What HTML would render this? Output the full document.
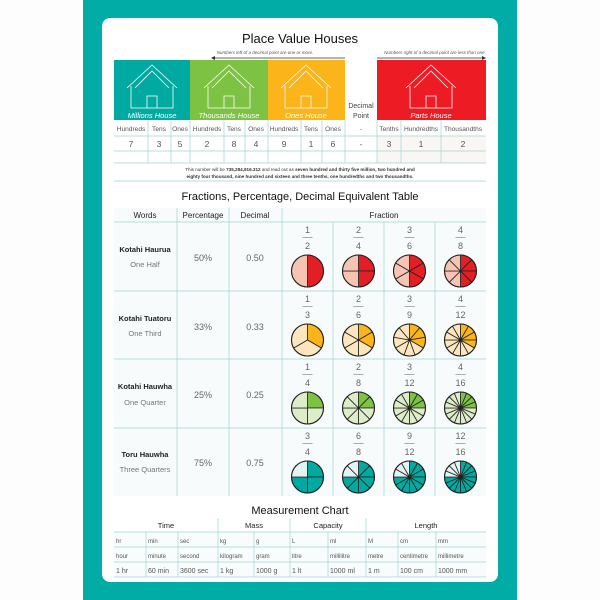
<!DOCTYPE html>
<html><head><meta charset="utf-8"><style>
body{margin:0;background:#fff;}
svg{display:block;font-family:"Liberation Sans",sans-serif;}
</style></head><body>
<svg width="600" height="600" viewBox="0 0 600 600" xmlns="http://www.w3.org/2000/svg">
<rect x="0" y="0" width="600" height="600" fill="#fdfdfd"/>
<rect x="83" y="0" width="434" height="600" fill="#00aca5"/>
<rect x="102" y="18" width="396" height="564" rx="8" fill="#fff"/>

<text x="300" y="43" font-size="13" text-anchor="middle" fill="#111">Place Value Houses</text>
<text x="265" y="54" font-size="4.5" text-anchor="middle" fill="#555" font-style="italic">Numbers left of a decimal point are one or more.</text>
<text x="435" y="54" font-size="4.5" text-anchor="middle" fill="#555" font-style="italic">Numbers right of a decimal point are less than one.</text>
<line x1="213" y1="58" x2="345" y2="58" stroke="#333" stroke-width="0.8"/>
<path d="M211 58 l4 -2 v4z" fill="#333"/>
<line x1="377" y1="58" x2="484" y2="58" stroke="#333" stroke-width="0.8"/>
<path d="M486 58 l-4 -2 v4z" fill="#333"/>
<rect x="114" y="60" width="76" height="60" fill="#00aaa0"/>
<rect x="190" y="60" width="78" height="60" fill="#7dc242"/>
<rect x="268" y="60" width="77" height="60" fill="#fbb419"/>
<rect x="377" y="60" width="109" height="60" fill="#ed1c24"/>
<g fill="none" stroke="#fff" stroke-width="0.8">
<path d="M127 88 L152 65 L177 88 M131 86 L131 108 L173 108 L173 86 M135 88 L152 71 L169 88 M147 108 V96 H157 V108"/>
<path d="M204 88 L229 65 L254 88 M208 86 L208 108 L250 108 L250 86 M212 88 L229 71 L246 88 M224 108 V96 H234 V108"/>
<path d="M281 88 L306 65 L331 88 M285 86 L285 108 L327 108 L327 86 M289 88 L306 71 L323 88 M301 108 V96 H311 V108"/>
<path d="M406 88 L431 65 L456 88 M410 86 L410 108 L452 108 L452 86 M414 88 L431 71 L448 88 M426 108 V96 H436 V108"/>
</g>
<g font-size="7.5" fill="#fff" text-anchor="middle" font-style="italic">
<text x="152" y="118">Millions House</text><text x="229" y="118">Thousands House</text>
<text x="306" y="118">Ones House</text><text x="431" y="118">Parts House</text>
</g>
<text x="361" y="108" font-size="7" text-anchor="middle" fill="#444">Decimal</text>
<text x="361" y="118" font-size="7" text-anchor="middle" fill="#444">Point</text>
<rect x="377" y="136" width="109" height="27" fill="#faf6f4"/>
<g stroke="#9fd6d3" stroke-width="0.7" fill="none">
<line x1="114" y1="136" x2="486" y2="136"/><line x1="114" y1="151" x2="486" y2="151"/><line x1="114" y1="163" x2="486" y2="163"/><line x1="114" y1="181" x2="486" y2="181"/>
<path d="M148 120V163M171 120V163M190 120V163M224 120V163M245 120V163M268 120V163M301 120V163M322 120V163M345 120V163M377 120V163M401 120V163M441 120V163"/>
</g>
<g font-size="6.6" fill="#555" text-anchor="middle">
<text x="131" y="131">Hundreds</text><text x="159" y="131">Tens</text><text x="180" y="131">Ones</text>
<text x="207" y="131">Hundreds</text><text x="234" y="131">Tens</text><text x="256" y="131">Ones</text>
<text x="284" y="131">Hundreds</text><text x="311" y="131">Tens</text><text x="333" y="131">Ones</text>
<text x="361" y="131">-</text><text x="389" y="131">Tenths</text><text x="421" y="131">Hundredths</text><text x="463" y="131">Thousandths</text>
<g font-size="8.5"><text x="131" y="147">7</text><text x="159" y="147">3</text><text x="180" y="147">5</text>
<text x="207" y="147">2</text><text x="234" y="147">8</text><text x="256" y="147">4</text>
<text x="284" y="147">9</text><text x="311" y="147">1</text><text x="333" y="147">6</text>
<text x="361" y="147">-</text><text x="389" y="147">3</text><text x="421" y="147">1</text><text x="463" y="147">2</text></g>
</g>
<g font-size="4.6" fill="#333" text-anchor="middle">
<text x="300" y="171">This number will be <tspan font-weight="bold">735,284,916.312</tspan> and read out as <tspan font-weight="bold">seven hundred and thirty five million, two hundred and</tspan></text>
<text x="300" y="178" font-weight="bold">eighty four thousand, nine hundred and sixteen and three tenths, one hundredths and two thousandths.</text>
</g>

<text x="300" y="200" font-size="11" text-anchor="middle" fill="#111">Fractions, Percentage, Decimal Equivalent Table</text>
<rect x="114" y="208" width="372" height="288" fill="#f7fbfb"/>
<g stroke="#9fd6d3" stroke-width="0.7" fill="none">
<path d="M114 222H486M114 291H486M114 359H486M114 428H486"/>
<path d="M177 208V496M229 208V496M282 208V496M333 222V496M384 222V496M435 222V496"/>
</g>
<g font-size="8" fill="#222" text-anchor="middle">
<text x="145" y="218">Words</text><text x="203" y="218">Percentage</text><text x="255" y="218">Decimal</text><text x="384" y="218">Fraction</text>
</g>
<g text-anchor="middle">
<text x="145" y="252" font-size="7.5" font-weight="bold" fill="#222">Kotahi Haurua</text><text x="145" y="267" font-size="7.5" fill="#777">One Half</text>
<text x="145" y="321" font-size="7.5" font-weight="bold" fill="#222">Kotahi Tuatoru</text><text x="145" y="336" font-size="7.5" fill="#777">One Third</text>
<text x="145" y="389" font-size="7.5" font-weight="bold" fill="#222">Kotahi Hauwha</text><text x="145" y="405" font-size="7.5" fill="#777">One Quarter</text>
<text x="145" y="457" font-size="7.5" font-weight="bold" fill="#222">Toru Hauwha</text><text x="145" y="472" font-size="7.5" fill="#777">Three Quarters</text>
<g font-size="9" fill="#666">
<text x="203" y="261">50%</text><text x="255" y="261">0.50</text>
<text x="203" y="330">33%</text><text x="255" y="330">0.33</text>
<text x="203" y="398">25%</text><text x="255" y="398">0.25</text>
<text x="203" y="466">75%</text><text x="255" y="466">0.75</text>
</g>
<g font-size="9" fill="#666">
<text x="307.5" y="233">1</text><text x="307.5" y="249">2</text>
<text x="358.5" y="233">2</text><text x="358.5" y="249">4</text>
<text x="409.5" y="233">3</text><text x="409.5" y="249">6</text>
<text x="460.5" y="233">4</text><text x="460.5" y="249">8</text>
<text x="307.5" y="302">1</text><text x="307.5" y="318">3</text>
<text x="358.5" y="302">2</text><text x="358.5" y="318">6</text>
<text x="409.5" y="302">3</text><text x="409.5" y="318">9</text>
<text x="460.5" y="302">4</text><text x="460.5" y="318">12</text>
<text x="307.5" y="370">1</text><text x="307.5" y="386">4</text>
<text x="358.5" y="370">2</text><text x="358.5" y="386">8</text>
<text x="409.5" y="370">3</text><text x="409.5" y="386">12</text>
<text x="460.5" y="370">4</text><text x="460.5" y="386">16</text>
<text x="307.5" y="439">3</text><text x="307.5" y="455">4</text>
<text x="358.5" y="439">6</text><text x="358.5" y="455">8</text>
<text x="409.5" y="439">9</text><text x="409.5" y="455">12</text>
<text x="460.5" y="439">12</text><text x="460.5" y="455">16</text>
</g>
</g>
<g stroke="#888" stroke-width="0.7" id="bars"></g>
<g id="pies"></g>

<text x="300" y="514" font-size="11" text-anchor="middle" fill="#111">Measurement Chart</text>
<rect x="114" y="532" width="372" height="45" fill="#f9fcfc"/>
<g stroke="#9fd6d3" stroke-width="0.7" fill="none">
<path d="M114 532H486M114 547H486M114 562H486M114 577H486"/>
<path d="M218 518V577M290 518V577M366 518V577M146 532V577M178 532V577M254 532V577M328 532V577M398 532V577M436 532V577"/>
</g>
<g font-size="7.5" fill="#222" text-anchor="middle">
<text x="166" y="528">Time</text><text x="254" y="528">Mass</text><text x="328" y="528">Capacity</text><text x="426" y="528">Length</text>
</g>
<g font-size="6" fill="#555">
<text x="116" y="543">hr</text><text x="148" y="543">min</text><text x="180" y="543">sec</text><text x="220" y="543">kg</text><text x="256" y="543">g</text><text x="292" y="543">L</text><text x="330" y="543">ml</text><text x="368" y="543">M</text><text x="400" y="543">cm</text><text x="438" y="543">mm</text>
<text x="116" y="558">hour</text><text x="148" y="558">minute</text><text x="180" y="558">second</text><text x="220" y="558">kilogram</text><text x="256" y="558">gram</text><text x="292" y="558">litre</text><text x="330" y="558">millilitre</text><text x="368" y="558">metre</text><text x="400" y="558">centimetre</text><text x="438" y="558">millimetre</text>
<g font-size="7"><text x="116" y="573">1 hr</text><text x="148" y="573">60 min</text><text x="180" y="573">3600 sec</text><text x="220" y="573">1 kg</text><text x="256" y="573">1000 g</text><text x="292" y="573">1 lt</text><text x="330" y="573">1000 ml</text><text x="368" y="573">1 m</text><text x="400" y="573">100 cm</text><text x="438" y="573">1000 mm</text></g>
</g>
</svg>
<script>
var NS="http://www.w3.org/2000/svg",pies=document.getElementById('pies'),bars=document.getElementById('bars');
var rows=[{top:222,n:[1,2,3,4],d:[2,4,6,8],f:"#e31e25",l:"#f7c3b3"},
{top:291,n:[1,2,3,4],d:[3,6,9,12],f:"#fbb419",l:"#fde5bd"},
{top:359,n:[1,2,3,4],d:[4,8,12,16],f:"#7dc242",l:"#ddecc9"},
{top:428,n:[3,6,9,12],d:[4,8,12,16],f:"#00aaa0",l:"#e3f3f2"}];
var xs=[307.5,358.5,409.5,460.5];
function el(t,a){var e=document.createElementNS(NS,t);for(var k in a)e.setAttribute(k,a[k]);return e;}
rows.forEach(function(r){for(var i=0;i<4;i++){var cx=xs[i],cy=r.top+49,R=16,d=r.d[i];
bars.appendChild(el('line',{x1:cx-5,y1:r.top+15.5,x2:cx+5,y2:r.top+15.5}));
for(var s=0;s<d;s++){var a0=s/d*2*Math.PI,a1=(s+1)/d*2*Math.PI;
var x0=cx+R*Math.sin(a0),y0=cy-R*Math.cos(a0),x1=cx+R*Math.sin(a1),y1=cy-R*Math.cos(a1);
pies.appendChild(el('path',{d:"M"+cx+" "+cy+"L"+x0+" "+y0+"A"+R+" "+R+" 0 "+((a1-a0)>Math.PI?1:0)+" 1 "+x1+" "+y1+"Z",fill:s<r.n[i]?r.f:r.l,stroke:"#222","stroke-width":0.8}));}
pies.appendChild(el('circle',{cx:cx,cy:cy,r:R,fill:"none",stroke:"#222","stroke-width":1.1}));}});
</script>
</body></html>
